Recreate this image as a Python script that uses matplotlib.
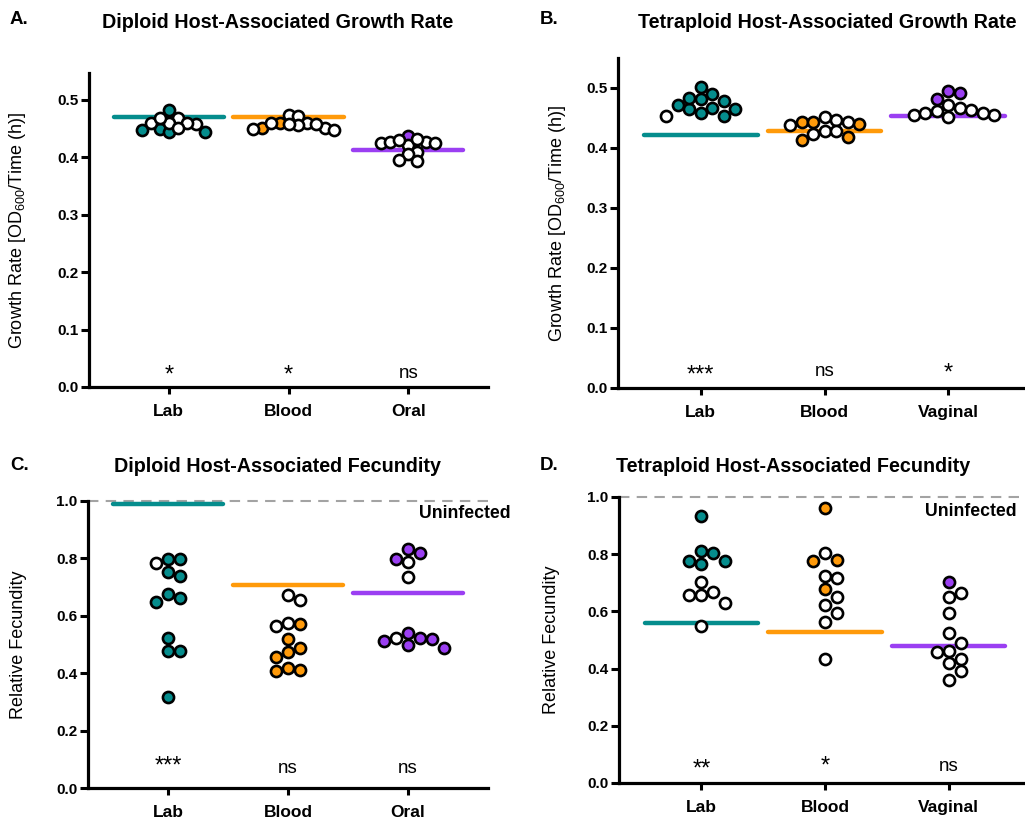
import matplotlib
matplotlib.use("Agg")
import matplotlib.pyplot as plt
import numpy as np

plt.rcParams['font.family'] = ['Liberation Sans', 'DejaVu Sans']
plt.rcParams['mathtext.default'] = 'regular'

# ---------------- data ----------------
groups_A = ["Lab", "Blood", "Oral"]
groups_B = ["Lab", "Blood", "Vaginal"]

# Panel A: diploid growth rate
A_lab_filled = [0.449, 0.483, 0.444, 0.447, 0.445]
A_lab_open = [0.468, 0.458, 0.460, 0.460, 0.460, 0.452, 0.468]
A_blood_filled = [0.460, 0.452]
A_blood_open = [0.452, 0.460, 0.460, 0.474, 0.447, 0.459, 0.472, 0.456, 0.449, 0.458]
A_oral_filled = [0.438]
A_oral_open = [0.422, 0.426, 0.432, 0.425, 0.425, 0.426, 0.431, 0.410, 0.406, 0.394, 0.395]
A_lines = [0.471, 0.471, 0.413]
A_sig = ["*", "*", "ns"]

# Panel B: tetraploid growth rate
B_lab_filled = [0.481, 0.458, 0.472, 0.465, 0.490, 0.467, 0.502, 0.479, 0.484, 0.465, 0.454]
B_lab_open = [0.454]
B_blood_filled = [0.419, 0.443, 0.444, 0.414, 0.440]
B_blood_open = [0.444, 0.438, 0.447, 0.428, 0.424, 0.452, 0.428]
B_vag_filled = [0.492, 0.481, 0.495]
B_vag_open = [0.455, 0.467, 0.459, 0.463, 0.472, 0.451, 0.462, 0.455, 0.459]
B_lines = [0.421, 0.428, 0.453]
B_sig = ["***", "ns", "*"]

# Panel C: diploid fecundity
C_lab_filled = [0.797, 0.798, 0.737, 0.753, 0.649, 0.676, 0.663, 0.521, 0.478, 0.478, 0.316]
C_lab_open = [0.785]
C_blood_filled = [0.571, 0.518, 0.487, 0.458, 0.473, 0.408, 0.417, 0.411]
C_blood_open = [0.655, 0.672, 0.574, 0.564]
C_oral_filled = [0.820, 0.833, 0.798, 0.539, 0.498, 0.512, 0.521, 0.487, 0.519]
C_oral_open = [0.789, 0.734, 0.521]
C_lines = [0.990, 0.708, 0.678]
C_sig = ["***", "ns", "ns"]

# Panel D: tetraploid fecundity
D_lab_filled = [0.933, 0.776, 0.805, 0.812, 0.764, 0.776]
D_lab_open = [0.703, 0.668, 0.659, 0.659, 0.631, 0.548]
D_blood_filled = [0.963, 0.776, 0.781, 0.680]
D_blood_open = [0.805, 0.718, 0.723, 0.622, 0.651, 0.593, 0.563, 0.435]
D_vag_filled = [0.703]
D_vag_open = [0.649, 0.663, 0.593, 0.523, 0.458, 0.461, 0.420, 0.490, 0.435, 0.392, 0.359]
D_lines = [0.560, 0.528, 0.479]
D_sig = ["**", "*", "ns"]

colors = ["#058D8D", "#FF9A0A", "#9B3FF2"]

# ---------------- figure ----------------
W, H = 1025, 825
fig = plt.figure(figsize=(W / 100, H / 100), dpi=100)


def px_axes(left, right, bottom, top):
    return fig.add_axes([left / W, 1 - bottom / H, (right - left) / W, (bottom - top) / H])


def swarm(values, px_per_y, px_per_x, step):
    """grid beeswarm: returns x offsets (data units)"""
    vals = np.asarray(values, dtype=float)
    order = np.argsort(-vals, kind="stable")
    placed = []
    offs = np.zeros(len(vals))
    ks = [0]
    for k in range(1, 30):
        ks += [k, -k]
    for i in order:
        y = vals[i] * px_per_y
        for k in ks:
            x = k * step
            if all((x - px) ** 2 + (y - py) ** 2 >= (step * 0.97) ** 2 for px, py in placed):
                placed.append((x, y))
                offs[i] = x / px_per_x
                break
    return offs


STAR_FS = 17
NS_FS = 13.5


def panel(ax, box, ylim, yticks, ytlabels, cats, filled, opened, lines, sig, ns_y, star_y,
          ylabel, step, dashed=False):
    left, right, bottom, top = box
    ax.set_xlim(1 / 3, 3 + 2 / 3)
    ax.set_ylim(*ylim)
    px_per_x = (right - left) / (ax.get_xlim()[1] - ax.get_xlim()[0])
    px_per_y = (bottom - top) / (ylim[1] - ylim[0])
    if dashed:
        ax.axhline(1.0, color="#A3A3A3", lw=1.5, ls=(0, (5, 3.5)), zorder=1, clip_on=False)
    for gi in range(3):
        xc = gi + 1
        ax.plot([xc - 0.46, xc + 0.46], [lines[gi], lines[gi]], color=colors[gi], lw=3.2,
                solid_capstyle="round", zorder=2, clip_on=False)
        vals = list(filled[gi]) + list(opened[gi])
        isf = [True] * len(filled[gi]) + [False] * len(opened[gi])
        offs = swarm(vals, px_per_y, px_per_x, step)
        for v, o, f in zip(vals, offs, isf):
            ax.plot(xc + o, v, marker="o", ms=8.0, mew=1.9, mec="black",
                    mfc=colors[gi] if f else "white", ls="none", zorder=3, clip_on=False)
        s = sig[gi]
        if s.startswith("*"):
            ax.annotate(s, (xc, star_y[gi]), xytext=(0, -0.6 * STAR_FS), textcoords="offset points",
                        ha="center", va="baseline", fontsize=STAR_FS)
        else:
            ax.text(xc, ns_y, s, ha="center", va="baseline", fontsize=NS_FS)
    ax.set_xticks([1, 2, 3])
    ax.set_xticklabels(cats, fontsize=12.5, fontweight="bold")
    ax.set_yticks(yticks)
    ax.set_yticklabels(ytlabels, fontsize=11, fontweight="bold")
    for sp in ["top", "right"]:
        ax.spines[sp].set_visible(False)
    for sp in ["left", "bottom"]:
        ax.spines[sp].set_linewidth(2.3)
    ax.tick_params(axis="y", length=6, width=2.2, pad=1.5)
    ax.tick_params(axis="x", length=5, width=2.2, pad=7)
    ax.set_ylabel(ylabel, fontsize=13)


gr_label = "Growth Rate [OD$_{600}$/Time (h)]"
fe_label = "Relative Fecundity"
gr_ticks = [0.0, 0.1, 0.2, 0.3, 0.4, 0.5]
gr_tl = ["0.0", "0.1", "0.2", "0.3", "0.4", "0.5"]
fe_ticks = [0.0, 0.2, 0.4, 0.6, 0.8, 1.0]
fe_tl = ["0.0", "0.2", "0.4", "0.6", "0.8", "1.0"]

boxA = (89, 488, 387, 73)
boxB = (618, 1031, 388, 58)
boxC = (88, 488, 788, 501)
boxD = (619, 1031, 783, 497)

axA = px_axes(*boxA)
panel(axA, boxA, (0, 0.547), gr_ticks, gr_tl, groups_A,
      [A_lab_filled, A_blood_filled, A_oral_filled],
      [A_lab_open, A_blood_open, A_oral_open], A_lines, A_sig, 0.015,
      [0.035, 0.035, 0.035], gr_label, 9.0)
axA.yaxis.set_label_coords(-0.153, 0.5)

axB = px_axes(*boxB)
panel(axB, boxB, (0, 0.55), gr_ticks, gr_tl, groups_B,
      [B_lab_filled, B_blood_filled, B_vag_filled],
      [B_lab_open, B_blood_open, B_vag_open], B_lines, B_sig, 0.0205,
      [0.035, 0.035, 0.037], gr_label, 11.5)
axB.yaxis.set_label_coords(-0.121, 0.5)

axC = px_axes(*boxC)
panel(axC, boxC, (0, 1.0), fe_ticks, fe_tl, groups_A,
      [C_lab_filled, C_blood_filled, C_oral_filled],
      [C_lab_open, C_blood_open, C_oral_open], C_lines, C_sig, 0.052,
      [0.104, 0.104, 0.104], fe_label, 12.0, dashed=True)
axC.yaxis.set_label_coords(-0.153, 0.5)
axC.text(3.09, 0.955, "Uninfected", ha="left", va="center", fontsize=12.7, fontweight="bold")

axD = px_axes(*boxD)
panel(axD, boxD, (0, 1.0), fe_ticks, fe_tl, groups_B,
      [D_lab_filled, D_blood_filled, D_vag_filled],
      [D_lab_open, D_blood_open, D_vag_open], D_lines, D_sig, 0.042,
      [0.077, 0.087, 0.085], fe_label, 12.0, dashed=True)
axD.yaxis.set_label_coords(-0.143, 0.5)
axD.text(3.55, 0.948, "Uninfected", ha="right", va="center", fontsize=12.7, fontweight="bold")


def ftext(x, y, s, **kw):
    fig.text(x / W, 1 - y / H, s, **kw)


ftext(10, 20, "A.", ha="left", va="center", fontsize=13.5, fontweight="bold")
ftext(540, 20, "B.", ha="left", va="center", fontsize=13.5, fontweight="bold")
ftext(10, 466, "C.", ha="left", va="center", fontsize=13.5, fontweight="bold")
ftext(540, 466, "D.", ha="left", va="center", fontsize=13.5, fontweight="bold")
ftext(278, 22, "Diploid Host-Associated Growth Rate", ha="center", va="center", fontsize=14.2, fontweight="bold")
ftext(827, 22, "Tetraploid Host-Associated Growth Rate", ha="center", va="center", fontsize=14.2, fontweight="bold")
ftext(278, 466, "Diploid Host-Associated Fecundity", ha="center", va="center", fontsize=14.2, fontweight="bold")
ftext(793, 466, "Tetraploid Host-Associated Fecundity", ha="center", va="center", fontsize=14.2, fontweight="bold")

fig.savefig("out.png", dpi=100)
